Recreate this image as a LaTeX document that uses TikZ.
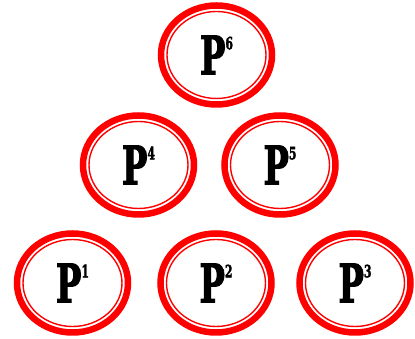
\documentclass[tikz,border=0pt]{standalone}
\usepackage{fontspec}
\usepackage{graphicx}
\setmainfont{DejaVu Serif}
\newfontfamily\heavyfont{DejaVu Serif}[BoldFeatures={FakeBold=2.5}]
\usepackage{tikz}
\usetikzlibrary{shapes.geometric, positioning}
\tikzset{
  procE/.style={ellipse, draw=red, line width=6.5pt,
                minimum width=111pt, minimum height=99pt, inner sep=0pt,
                path picture={\draw[red, line width=1.4pt]
                  (path picture bounding box.center) ellipse (49.5pt and 43.5pt);}},
}
\newcommand{\pname}[1]{\raisebox{-6pt}{\scalebox{0.64}[1]{\heavyfont\fontsize{53}{53}\selectfont\bfseries P\raisebox{25pt}{\fontsize{17}{17}\selectfont #1}}}}

\begin{document}
\begin{tikzpicture}[x=1pt, y=1pt]
    \useasboundingbox (0,0) rectangle (415,339);

    %% centres
    \coordinate (c1) at (72.5,56);
    \coordinate (c2) at (216,56);
    \coordinate (c3) at (355,56);
    \coordinate (c4) at (138.5,174);
    \coordinate (c5) at (280,174);
    \coordinate (c6) at (216.5,284);

    %% bottom row
    \node[procE] (p1) at (c1) {\pname{1}};
    \node[procE] (p2) at (c2) {\pname{2}};
    \node[procE] (p3) at (c3) {\pname{3}};

    %% middle row
    \node[procE] (p4) at (c4) {\pname{4}};
    \node[procE] (p5) at (c5) {\pname{5}};

    %% top
    \node[procE] (p6) at (c6) {\pname{6}};
\end{tikzpicture}
\end{document}
